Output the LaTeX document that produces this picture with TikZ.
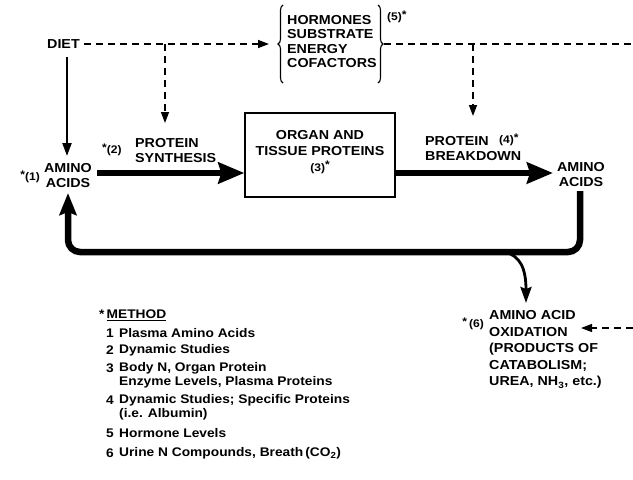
\documentclass[tikz,border=0pt]{standalone}
\usepackage{fontspec}
\setmainfont{Liberation Sans}[FakeStretch=1.1]
\usetikzlibrary{arrows.meta,decorations.pathreplacing}
\begin{document}
\begin{tikzpicture}[x=1pt,y=-1pt,
  lab/.style={font=\bfseries\fontsize{13}{15}\selectfont, inner sep=0pt, align=left},
  labc/.style={lab, align=center},
  sm/.style={font=\bfseries\fontsize{11}{12}\selectfont, inner sep=0pt},
  leg/.style={font=\bfseries\fontsize{12.5}{14}\selectfont, inner sep=0pt, anchor=west},
  dsh/.style={line width=1.4pt, dash pattern=on 7pt off 5pt},
  dtip/.style={-{Triangle[length=11pt,width=8pt]}},
  bigarrow/.style={line width=6.5pt, -{Stealth[length=26pt,width=21pt,inset=3pt]}},
  brc/.style={line width=1.1pt, decorate, decoration={brace, amplitude=5pt}}
]
\useasboundingbox (0,0) rectangle (633,480);

% top row
\node[lab, anchor=west] (diet) at (47,44) {DIET};
\node[lab, anchor=west, font=\bfseries\fontsize{13}{14.4}\selectfont] (horm) at (287,41.5) {HORMONES\\SUBSTRATE\\ENERGY\\COFACTORS};
\draw[brc] (283,83) -- (283,5);
\draw[brc] (378,5) -- (378,83);
\coordinate (lb) at (269,44);
\coordinate (rb) at (384,44);
\node[sm, anchor=west] (n5) at (387,17) {(5)\raisebox{2.5pt}{*}};

\coordinate (j1) at (165,44);
\coordinate (pstop) at (165,123);
\coordinate (j2) at (473,44);
\coordinate (pbtop) at (473,116);
\coordinate (redge) at (633,44);

\draw[dsh, dtip] (diet.east) ++(4,0) -- (lb);
\draw[dsh, dtip] (j1) -- (pstop);
\draw[dsh] (rb) -- (redge);
\draw[dsh, dtip] (j2) -- (pbtop);

% middle row
\node[labc] (aa1) at (68,175.5) {AMINO\\ACIDS};
\node[sm, anchor=east] (n1) at (40,177) {\raisebox{2.5pt}{*}(1)};
\coordinate (dietdown) at (67,57);
\coordinate (aa1top) at (67,156);
\draw[line width=2.2pt, -{Triangle[length=13pt,width=9pt]}] (dietdown) -- (aa1top);

\node[sm, anchor=west] (n2) at (102,150) {\raisebox{2.5pt}{*}(2)};
\node[lab, anchor=west] (ps) at (135,150.5) {PROTEIN\\SYNTHESIS};

\node[draw, line width=1.3pt, minimum width=150pt, minimum height=84pt, inner sep=0pt] (box) at (320,155) {};
\node[labc, font=\bfseries\fontsize{13}{16}\selectfont] (boxtxt) at (320,152) {ORGAN AND\\TISSUE PROTEINS\\{\fontsize{11}{12}\selectfont (3)\raisebox{2.5pt}{*}}};

\node[lab, anchor=west] (pb) at (425,148.5) {PROTEIN\\BREAKDOWN};
\node[sm, anchor=west] (n4) at (499,140) {(4)\raisebox{2.5pt}{*}};

\node[labc] (aa2) at (581,174.5) {AMINO\\ACIDS};

\coordinate (a1e) at (97,173);
\coordinate (a2w) at (553,173);
\draw[bigarrow] (a1e) -- (box.west |- a1e);
\draw[bigarrow] (box.east |- a1e) -- (a2w);

% loop
\coordinate (rs) at (580,191);
\coordinate (ls) at (68,193);
\draw[line width=6.5pt, rounded corners=12pt, -{Stealth[length=22pt,width=17pt,inset=3pt]}] (rs) -- (580,252) -- (68,252) -- (ls);

% oxidation
\node[lab, anchor=west, font=\bfseries\fontsize{13}{16.6}\selectfont] (ox) at (489,349.5) {AMINO ACID\\OXIDATION\\(PRODUCTS OF\\CATABOLISM;\\UREA, NH\textsubscript{3}, etc.)};
\node[sm, anchor=east] (n6) at (484,324) {\raisebox{2.5pt}{*}\,(6)};
\coordinate (br) at (505,252);
\coordinate (oxtop) at (526,303);
\draw[line width=2.8pt, -{Stealth[length=16pt,width=11pt,inset=2pt]}] (br) .. controls (520,256) and (526,268) .. (oxtop);
\coordinate (oxr) at (633,328);
\coordinate (oxin) at (581,328);
\draw[dsh, dtip] (oxr) -- (oxin);

% legend
\node[leg] (mh) at (99,315) {*\,\underline{METHOD}};
\node[leg] (l1n) at (106,333) {1};
\node[leg] (l1) at (119,333) {Plasma Amino Acids};
\node[leg] (l2n) at (106,350) {2};
\node[leg] (l2) at (119,350) {Dynamic Studies};
\node[leg] (l3n) at (106,368) {3};
\node[leg] (l3) at (119,368) {Body N, Organ Protein};
\node[leg] (l3b) at (119,382) {Enzyme Levels, Plasma Proteins};
\node[leg] (l4n) at (106,400) {4};
\node[leg] (l4) at (119,400) {Dynamic Studies; Specific Proteins};
\node[leg] (l4b) at (119,414) {(i.e. Albumin)};
\node[leg] (l5n) at (106,433) {5};
\node[leg] (l5) at (119,433) {Hormone Levels};
\node[leg] (l6n) at (106,453) {6};
\node[leg] (l6) at (119,453) {Urine N Compounds, Breath\,(CO\textsubscript{2})};
\end{tikzpicture}
\end{document}
